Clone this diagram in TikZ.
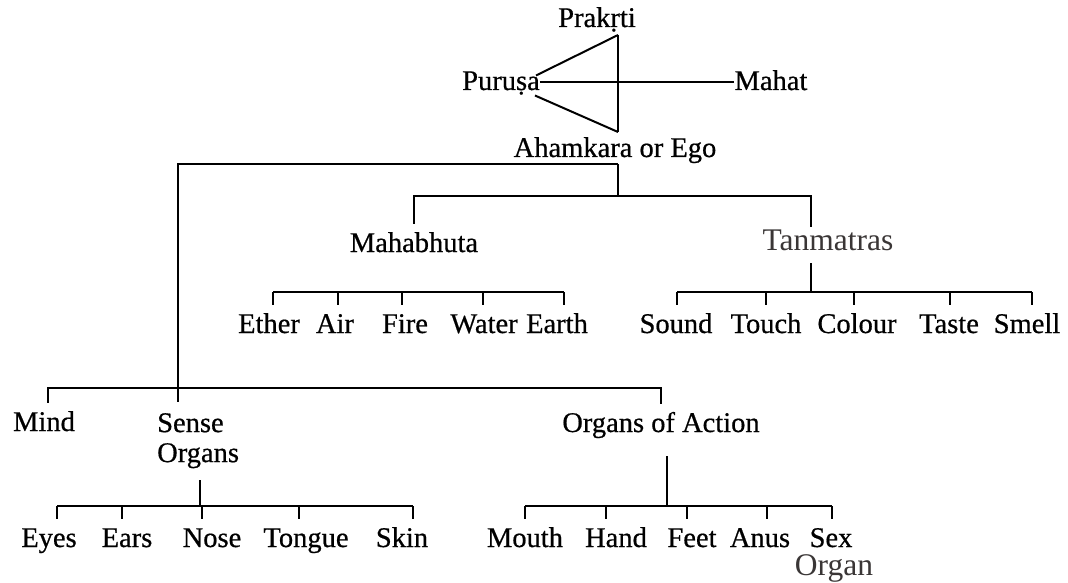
\documentclass[tikz,border=0pt]{standalone}
\usepackage{fontspec}
\setmainfont{Liberation Serif}[FakeBold=0.6]
\newfontfamily\faintfont{Liberation Serif}
\definecolor{faintink}{RGB}{58,54,54}

\begin{document}
\begin{tikzpicture}[
    x=1pt, y=-1pt,
    term/.style={font=\fontsize{28.5}{30}\selectfont, anchor=base, inner xsep=0pt, inner ysep=8pt, text height=20pt, text depth=5pt},
    faint/.style={term, font=\faintfont\fontsize{31.5}{33}\selectfont, text height=22pt, text=faintink},
    link/.style={line width=2pt},
]
    \useasboundingbox (0,0) rectangle (1068,583);

    % Purusa, Prakrti, Mahat
    \node (prakrti) [term] at (597,27) {Prakṛti};
    \node (purusa) [term] at (501,90) {Puruṣa};
    \node (mahat) [term] at (771,90) {Mahat};
    \node (ahamkara) [term, inner ysep=2pt] at (615,157) {Ahamkara or Ego};

    \coordinate (apex_top) at (618,35);
    \coordinate (apex_bot) at (618,132);
    \draw [link] (apex_top) -- (apex_bot);
    \draw [link] ([xshift=-4pt,yshift=7pt]purusa.east) -- (apex_top);
    \draw [link] ([xshift=-5pt,yshift=-13pt]purusa.east) -- (apex_bot);
    \draw [link] (purusa.east) -- (mahat.west);

    % Mahabhuta and Tanmatras
    \node (mahabhuta) [term] at (414,252) {Mahabhuta};
    \node (tanmatras) [faint] at (828,250) {Tanmatras};
    \coordinate (ego_fork) at (ahamkara.south -| apex_top);
    \coordinate (elem_bar) at (0,196);
    \coordinate (tan_in) at ([xshift=-17pt,yshift=-7pt]tanmatras.north);
    \coordinate (tan_out) at ([xshift=-17pt]tanmatras.south);
    \draw [link] (ego_fork) -- (ego_fork |- elem_bar);
    \draw [link] (mahabhuta.north) -- (mahabhuta.north |- elem_bar) -| (tan_in);

    \foreach \name/\x/\dx/\word in {ether/269/4/Ether, air/335/3/Air, fire/405/-3/Fire, water/484/-1/Water, earth/557/7/Earth,
        sound/676/1/Sound, touch/766/0/Touch, colour/857/-3/Colour, taste/949/1/Taste, smell/1027/5/Smell} {
        \node (\name) [term] at (\x,333) {\word};
        \draw [link] ([xshift=\dx pt]\name.north) -- ++(0,-13) coordinate (\name_top);
    }
    \draw [link] (ether_top) -- (earth_top);
    \draw [link] (sound_top) -- (smell_top);
    \draw [link] (tan_out) -- (tan_out |- sound_top);

    % Mind, Sense Organs, Organs of Action
    \node (mind) [term] at (44,431) {Mind};
    \node (sense_organs) [term, text height=, text depth=, inner ysep=0pt, align=left, anchor=north west] at (157,413) {Sense\\Organs};
    \node (organs_action) [term] at (661,432) {Organs of Action};
    \coordinate (mind_bar) at (0,388);
    \coordinate (sense_in) at (178,402);
    \coordinate (sense_out) at ([xshift=2pt,yshift=-12pt]sense_organs.south);
    \coordinate (action_out) at ([xshift=6pt,yshift=-11pt]organs_action.south);
    \draw [link] (ego_fork) -| (sense_in);
    \draw [link] ([xshift=4pt]mind.north) -- ([xshift=4pt]mind.north |- mind_bar) -| (organs_action.north);

    \foreach \name/\x/\dx/\word in {eyes/49/8/Eyes, ears/127/-5/Ears, nose/212/-10/Nose, tongue/306/-7/Tongue, skin/402/11/Skin,
        mouth/525/0/Mouth, hand/616/-10/Hand, feet/692/-5/Feet, anus/760/7/Anus, sex/831/1/Sex} {
        \node (\name) [term] at (\x,547) {\word};
        \draw [link] ([xshift=\dx pt]\name.north) -- ++(0,-13) coordinate (\name_top);
    }
    \draw [link] (eyes_top) -- (skin_top);
    \draw [link] (mouth_top) -- (sex_top);
    \draw [link] (sense_out) -- (sense_out |- eyes_top);
    \draw [link] (action_out) -- (action_out |- mouth_top);
    \node (sex_organ) [faint] at (834,575) {Organ};

\end{tikzpicture}
\end{document}
